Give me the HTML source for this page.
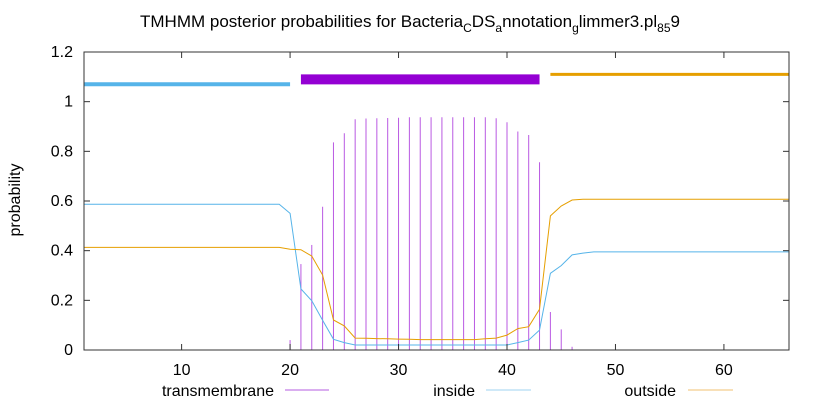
<!DOCTYPE html>
<html><head><meta charset="utf-8">
<style>
html,body{margin:0;padding:0;background:#fff;}
svg{display:block;font-family:"Liberation Sans",sans-serif;}
</style></head>
<body>
<svg id="chart" width="821" height="402" viewBox="0 0 821 402">
<text x="410" y="27" text-anchor="middle" font-size="17">TMHMM posterior probabilities for Bacteria<tspan font-size="12" dy="5">C</tspan><tspan dy="-5">DS</tspan><tspan font-size="12" dy="5">a</tspan><tspan dy="-5">nnotation</tspan><tspan font-size="12" dy="5">g</tspan><tspan dy="-5">limmer3.pl</tspan><tspan font-size="12" dy="5">85</tspan><tspan dy="-5">9</tspan></text>
<text transform="translate(20,200) rotate(-90)" text-anchor="middle" font-size="16">probability</text>
<g id="marks"></g>
<g id="axes"></g>
<g id="legend"></g>
</svg>
<script>
const positions = [];
for (let i = 1; i <= 66; i++) positions.push(i);
const tmValues = {20:0.04,21:0.346,22:0.423,23:0.577,24:0.836,25:0.873,26:0.929,27:0.932,28:0.933,29:0.934,30:0.935,31:0.937,32:0.937,33:0.937,34:0.937,35:0.937,36:0.937,37:0.937,38:0.937,39:0.933,40:0.917,41:0.88,42:0.866,43:0.756,44:0.153,45:0.083,46:0.013};
const insideValues = [0.587,0.587,0.587,0.587,0.587,0.587,0.587,0.587,0.587,0.587,0.587,0.587,0.587,0.587,0.587,0.587,0.587,0.587,0.587,0.55,0.246,0.198,0.12,0.043,0.03,0.02,0.02,0.02,0.02,0.02,0.02,0.02,0.02,0.02,0.02,0.02,0.02,0.02,0.02,0.02,0.03,0.04,0.08,0.309,0.34,0.383,0.39,0.395,0.395,0.395,0.395,0.395,0.395,0.395,0.395,0.395,0.395,0.395,0.395,0.395,0.395,0.395,0.395,0.395,0.395,0.395];
const outsideValues = [0.413,0.413,0.413,0.413,0.413,0.413,0.413,0.413,0.413,0.413,0.413,0.413,0.413,0.413,0.413,0.413,0.413,0.413,0.413,0.406,0.404,0.378,0.302,0.121,0.097,0.048,0.047,0.046,0.045,0.044,0.043,0.042,0.042,0.042,0.042,0.042,0.042,0.045,0.048,0.06,0.086,0.094,0.164,0.54,0.58,0.604,0.607,0.607,0.607,0.607,0.607,0.607,0.607,0.607,0.607,0.607,0.607,0.607,0.607,0.607,0.607,0.607,0.607,0.607,0.607,0.607];
const regionStarts = [1,21,44];
const regionEnds = [20,43,66];
const regionLevels = [1.07,1.09,1.11];
const regionNames = ['inside-region','transmembrane-region','outside-region'];
const xTicks = [10,20,30,40,50,60];
const yTicks = [0,0.2,0.4,0.6,0.8,1,1.2];
const yTickLabels = ['0','0.2','0.4','0.6','0.8','1','1.2'];

const L=84,R=789,T=52,B=350;
const xMin=1,xMax=66,yMin=0,yMax=1.2;
const X=v=>L+(v-xMin)/(xMax-xMin)*(R-L);
const Y=v=>B-(v-yMin)/(yMax-yMin)*(B-T);
const NS='http://www.w3.org/2000/svg';
function mk(tag,attrs,parent){const e=document.createElementNS(NS,tag);for(const k in attrs)e.setAttribute(k,attrs[k]);parent.appendChild(e);return e;}
const marks=document.getElementById('marks'),axes=document.getElementById('axes'),legend=document.getElementById('legend');

positions.forEach(p=>{
  const v=tmValues[p]; if(v===undefined) return;
  const l=mk('line',{x1:X(p),x2:X(p),y1:Y(0),y2:Y(v),stroke:'#9400d3','stroke-width':1,'stroke-opacity':0.65},marks);
  
  
});
function line(vals,color,name){
  const d=vals.map((v,i)=>(i?'L':'M')+X(positions[i]).toFixed(1)+','+Y(v).toFixed(1)).join('');
  const p=mk('path',{d:d,fill:'none',stroke:color,'stroke-width':1},marks);
  
  
}
line(insideValues,'#56b4e9','inside-line');
line(outsideValues,'#e69f00','outside-line');
const rColors=['#56b4e9','#9400d3','#e69f00'],rWidths=[4,10,3];
regionStarts.forEach((s,i)=>{
  const r=mk('line',{x1:X(s),x2:X(regionEnds[i]),y1:Y(regionLevels[i]),y2:Y(regionLevels[i]),stroke:rColors[i],'stroke-width':rWidths[i]},marks);
  
  
});
const f=mk('rect',{x:L,y:T,width:R-L,height:B-T,fill:'none',stroke:'#333','stroke-width':1},axes);


xTicks.forEach(t=>{
  mk('line',{x1:X(t),x2:X(t),y1:B,y2:B-6,stroke:'#333'},axes);
  mk('line',{x1:X(t),x2:X(t),y1:T,y2:T+6,stroke:'#333'},axes);
  const tx=mk('text',{x:X(t),y:375,'text-anchor':'middle','font-size':16},axes);
  tx.textContent=t;
  
  
});
yTicks.forEach((t,i)=>{
  mk('line',{x1:L,x2:L+6,y1:Y(t),y2:Y(t),stroke:'#333'},axes);
  mk('line',{x1:R,x2:R-6,y1:Y(t),y2:Y(t),stroke:'#333'},axes);
  const tx=mk('text',{x:73,y:Y(t)+5,'text-anchor':'end','font-size':16},axes);
  tx.textContent=yTickLabels[i];
  
  
});
const legItems=[['transmembrane',274,285,329,'#b45ee0'],['inside',475,486,531,'#9fd3f2'],['outside',676,688,733,'#f0c070']];
legItems.forEach(it=>{
  const tx=mk('text',{x:it[1],y:396,'text-anchor':'end','font-size':16},legend);
  tx.textContent=it[0];
  
  
  const ln=mk('line',{x1:it[2],x2:it[3],y1:390,y2:390,stroke:it[4],'stroke-width':1},legend);
  
  
});
</script>
</body></html>
